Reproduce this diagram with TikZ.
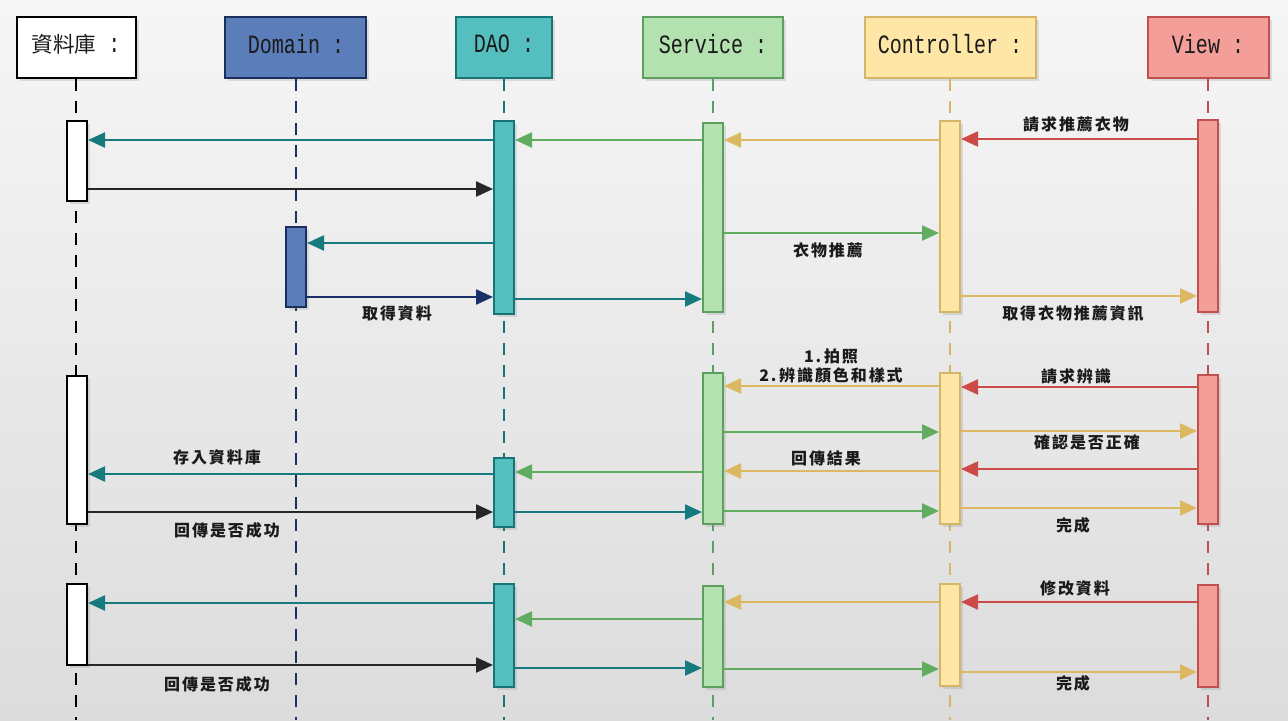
\documentclass[tikz,border=0pt]{standalone}
\usepackage{fontspec}
\usetikzlibrary{arrows.meta,fit,shadows}
\newfontfamily\cjk{Noto Sans CJK TC}
\newfontfamily\lblf[LetterSpace=12]{Noto Sans CJK TC}
\newfontfamily\hdrf[FakeStretch=0.76]{Liberation Mono}
\definecolor{bgtop}{HTML}{F6F6F6}
\definecolor{bgbot}{HTML}{DCDCDC}
\definecolor{dmfill}{HTML}{5B7DBA}
\definecolor{dmline}{HTML}{1B2F5E}
\definecolor{daofill}{HTML}{55BFBF}
\definecolor{daoline}{HTML}{187377}
\definecolor{svfill}{HTML}{B4E1B0}
\definecolor{svline}{HTML}{5E9E5E}
\definecolor{ctfill}{HTML}{FDE6A6}
\definecolor{ctline}{HTML}{D5B567}
\definecolor{vwfill}{HTML}{F39E99}
\definecolor{vwline}{HTML}{C0504D}
\definecolor{atl}{HTML}{167A7E}
\definecolor{ablk}{HTML}{262626}
\definecolor{anvy}{HTML}{1B2F6A}
\definecolor{agrn}{HTML}{62AC62}
\definecolor{atan}{HTML}{DDB863}
\definecolor{ared}{HTML}{CC4B48}
\definecolor{txt}{HTML}{1A1A1A}
\tikzset{
  shad/.style={drop shadow={opacity=0.22,shadow xshift=1.5pt,shadow yshift=-1.5pt}},
  hdr/.style={draw,line width=1pt,inner sep=0pt,shad},
  htxt/.style={text=txt,inner sep=0pt,font=\hdrf\fontsize{13.2}{15}\selectfont},
  bar/.style={draw,line width=1pt,inner sep=0pt,shad},
  life/.style={line width=1pt,dash pattern=on 6pt off 5pt},
  msg/.style={line width=1.15pt,-{Triangle[length=8.5pt,width=7.5pt]}},
  lbl/.style={inner sep=0pt,text=txt,font=\lblf\bfseries\fontsize{8}{9.5}\selectfont}
}
\begin{document}
\begin{tikzpicture}[x=0.5pt,y=-0.5pt]
\useasboundingbox (0,0) rectangle (1288,720);
\shade[top color=bgtop,bottom color=bgbot] (0,0) rectangle (1288,720);
% headers
\node[hdr,fill=white,draw=black,fit={(17,17)(136,78)}] (dbH) {};
\node[htxt] (dbHt) at (76,44) {{\cjk\fontsize{10.8}{12}\selectfont 資料庫}\ :};
\node[hdr,fill=dmfill,draw=dmline,fit={(225,17)(366,78)}] (dmH) {};
\node[htxt] (dmHt) at (296,44) {Domain :};
\node[hdr,fill=daofill,draw=daoline,fit={(456,17)(552,78)}] (daoH) {};
\node[htxt] (daoHt) at (504,44) {DAO :};
\node[hdr,fill=svfill,draw=svline,fit={(643,17)(783,78)}] (svH) {};
\node[htxt] (svHt) at (713,44) {Service :};
\node[hdr,fill=ctfill,draw=ctline,fit={(865,17)(1036,78)}] (ctH) {};
\node[htxt] (ctHt) at (950,44) {Controller :};
\node[hdr,fill=vwfill,draw=vwline,fit={(1148,17)(1269,78)}] (vwH) {};
\node[htxt] (vwHt) at (1208,44) {View :};
% lifelines
\coordinate (dbE) at (76,720);
\coordinate (dmE) at (296,720);
\coordinate (daoE) at (504,720);
\coordinate (svE) at (713,720);
\coordinate (ctE) at (950,720);
\coordinate (vwE) at (1208,720);
\draw[life,black] (dbH.south -| dbE) -- (dbE);
\draw[life,dmline] (dmH.south -| dmE) -- (dmE);
\draw[life,daoline] (daoH.south -| daoE) -- (daoE);
\draw[life,svline] (svH.south -| svE) -- (svE);
\draw[life,ctline] (ctH.south -| ctE) -- (ctE);
\draw[life,vwline] (vwH.south -| vwE) -- (vwE);
% activation bars section 1
\node[bar,fill=white,draw=black,fit={(67,121)(87,201)}] (db1) {};
\node[bar,fill=dmfill,draw=dmline,fit={(286,227)(306,307)}] (dm1) {};
\node[bar,fill=daofill,draw=daoline,fit={(494,121)(514,314)}] (dao1) {};
\node[bar,fill=svfill,draw=svline,fit={(703,123)(723,312)}] (s1) {};
\node[bar,fill=ctfill,draw=ctline,fit={(940,121)(960,312)}] (c1) {};
\node[bar,fill=vwfill,draw=vwline,fit={(1198,120)(1218,312)}] (v1) {};
% section 2
\node[bar,fill=white,draw=black,fit={(67,376)(87,524)}] (db2) {};
\node[bar,fill=daofill,draw=daoline,fit={(494,458)(514,527)}] (dao2) {};
\node[bar,fill=svfill,draw=svline,fit={(703,373)(723,524)}] (s2) {};
\node[bar,fill=ctfill,draw=ctline,fit={(940,373)(960,524)}] (c2) {};
\node[bar,fill=vwfill,draw=vwline,fit={(1198,375)(1218,524)}] (v2) {};
% section 3
\node[bar,fill=white,draw=black,fit={(67,584)(87,665)}] (db3) {};
\node[bar,fill=daofill,draw=daoline,fit={(494,584)(514,687)}] (dao3) {};
\node[bar,fill=svfill,draw=svline,fit={(703,586)(723,687)}] (s3) {};
\node[bar,fill=ctfill,draw=ctline,fit={(940,584)(960,686)}] (c3) {};
\node[bar,fill=vwfill,draw=vwline,fit={(1198,585)(1218,687)}] (v3) {};
% messages section 1
\draw[msg,ared] (v1.west |- 0,139) -- (c1.east |- 0,139);
\draw[msg,atan] (c1.west |- 0,140) -- (s1.east |- 0,140);
\draw[msg,agrn] (s1.west |- 0,140) -- (dao1.east |- 0,140);
\draw[msg,atl] (dao1.west |- 0,140) -- (db1.east |- 0,140);
\draw[msg,ablk] (db1.east |- 0,189) -- (dao1.west |- 0,189);
\draw[msg,atl] (dao1.west |- 0,243) -- (dm1.east |- 0,243);
\draw[msg,anvy] (dm1.east |- 0,297) -- (dao1.west |- 0,297);
\draw[msg,atl] (dao1.east |- 0,299) -- (s1.west |- 0,299);
\draw[msg,agrn] (s1.east |- 0,233) -- (c1.west |- 0,233);
\draw[msg,atan] (c1.east |- 0,296) -- (v1.west |- 0,296);
% messages section 2
\draw[msg,ared] (v2.west |- 0,387) -- (c2.east |- 0,387);
\draw[msg,atan] (c2.west |- 0,386) -- (s2.east |- 0,386);
\draw[msg,agrn] (s2.east |- 0,432) -- (c2.west |- 0,432);
\draw[msg,atan] (c2.east |- 0,431) -- (v2.west |- 0,431);
\draw[msg,ared] (v2.west |- 0,469) -- (c2.east |- 0,469);
\draw[msg,atan] (c2.west |- 0,471) -- (s2.east |- 0,471);
\draw[msg,agrn] (s2.west |- 0,472) -- (dao2.east |- 0,472);
\draw[msg,atl] (dao2.west |- 0,474) -- (db2.east |- 0,474);
\draw[msg,ablk] (db2.east |- 0,512) -- (dao2.west |- 0,512);
\draw[msg,atl] (dao2.east |- 0,512) -- (s2.west |- 0,512);
\draw[msg,agrn] (s2.east |- 0,511) -- (c2.west |- 0,511);
\draw[msg,atan] (c2.east |- 0,508) -- (v2.west |- 0,508);
% messages section 3
\draw[msg,ared] (v3.west |- 0,602) -- (c3.east |- 0,602);
\draw[msg,atan] (c3.west |- 0,602) -- (s3.east |- 0,602);
\draw[msg,agrn] (s3.west |- 0,619) -- (dao3.east |- 0,619);
\draw[msg,atl] (dao3.west |- 0,603) -- (db3.east |- 0,603);
\draw[msg,ablk] (db3.east |- 0,665) -- (dao3.west |- 0,665);
\draw[msg,atl] (dao3.east |- 0,668) -- (s3.west |- 0,668);
\draw[msg,agrn] (s3.east |- 0,669) -- (c3.west |- 0,669);
\draw[msg,atan] (c3.east |- 0,672) -- (v3.west |- 0,672);
% labels
\node[lbl] (l1) at (1076,124) {請求推薦衣物};
\node[lbl] (l2) at (828,250) {衣物推薦};
\node[lbl] (l3) at (397,313) {取得資料};
\node[lbl] (l4) at (1073,313) {取得衣物推薦資訊};
\node[lbl,align=center] (l5) at (831,366) {1.\,拍照\\2.\,辨識顏色和樣式};
\node[lbl] (l6) at (1076,376) {請求辨識};
\node[lbl] (l7) at (1087,442) {確認是否正確};
\node[lbl] (l8) at (826,458) {回傳結果};
\node[lbl] (l9) at (217,457) {存入資料庫};
\node[lbl] (l10) at (227,530) {回傳是否成功};
\node[lbl] (l11) at (1073,525) {完成};
\node[lbl] (l12) at (1075,588) {修改資料};
\node[lbl] (l13) at (217,684) {回傳是否成功};
\node[lbl] (l14) at (1073,683) {完成};
\end{tikzpicture}
\end{document}
